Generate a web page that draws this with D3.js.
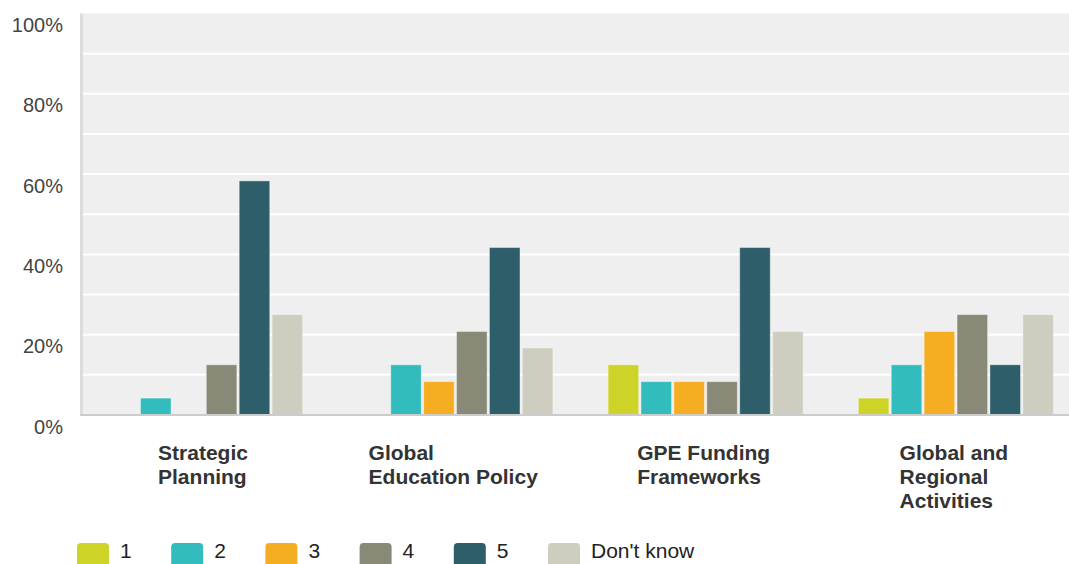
<!DOCTYPE html>
<html>
<head>
<meta charset="utf-8">
<script src="https://cdn.jsdelivr.net/npm/d3@7"></script>
<style>
  body { margin: 0; background: #fff; }
  svg { display: block; font-family: "Liberation Sans", Arial, sans-serif; }
</style>
</head>
<body>
<svg id="chart" width="1069" height="564"></svg>
<script>
// categories and their wrapped label lines
const categories = ["Strategic Planning", "Global Education Policy", "GPE Funding Frameworks", "Global and Regional Activities"];
const categoryLines = [
  ["Strategic", "Planning"],
  ["Global", "Education Policy"],
  ["GPE Funding", "Frameworks"],
  ["Global and", "Regional", "Activities"]
];
const seriesNames = ["1", "2", "3", "4", "5", "Don't know"];
const seriesColors = ["#ced427", "#33bcbe", "#f5ad21", "#888a77", "#2e5e6a", "#cfcdbf"];

// percentages per series, one value per category
const s1 = [0, 0, 12.5, 4.2];
const s2 = [4.2, 12.5, 8.3, 12.5];
const s3 = [0, 8.3, 8.3, 20.8];
const s4 = [12.5, 20.8, 8.3, 25];
const s5 = [58.3, 41.7, 41.7, 12.5];
const sDK = [25, 16.7, 20.8, 25];
const seriesValues = [s1, s2, s3, s4, s5, sDK];

const yTicks = [0, 20, 40, 60, 80, 100];
const yGrid = [10, 20, 30, 40, 50, 60, 70, 80, 90];

const svg = d3.select("#chart");
const plotLeft = 80, plotRight = 1081, plotTop = 13.5, plotBottom = 415;

const x = d3.scaleBand().domain(categories).range([plotLeft, plotRight]).padding(0);
const groupW = 197.4;
const xi = d3.scaleBand().domain(seriesNames)
  .range([(x.bandwidth() - groupW) / 2, (x.bandwidth() + groupW) / 2])
  .paddingInner(0.073).paddingOuter(0.0365);
const y = d3.scaleLinear().domain([0, 100]).range([plotBottom, plotTop]);
const color = d3.scaleOrdinal().domain(seriesNames).range(seriesColors);

// plot background
svg.append("rect")
  .attr("x", plotLeft).attr("y", plotTop)
  .attr("width", plotRight - plotLeft).attr("height", plotBottom - plotTop)
  .attr("fill", "#efefef");

// gridlines
svg.append("g").selectAll("line").data(yGrid).join("line")
  .attr("x1", plotLeft).attr("x2", plotRight)
  .attr("y1", d => y(d)).attr("y2", d => y(d))
  .attr("stroke", "#ffffff").attr("stroke-width", 2);

// left edge
svg.append("line")
  .attr("x1", plotLeft + 1.5).attr("x2", plotLeft + 1.5).attr("y1", plotTop).attr("y2", plotBottom)
  .attr("stroke", "#dddddd").attr("stroke-width", 3);

// y axis labels
const yAxis = svg.append("g").attr("transform", `translate(${plotLeft},0)`)
  .call(d3.axisLeft(y).tickValues(yTicks).tickFormat(d => d + "%").tickSize(0).tickPadding(17));
yAxis.select(".domain").remove();
yAxis.selectAll("text")
  .attr("dy", 18)
  .attr("font-size", 20)
  .attr("font-family", "'Liberation Sans', Arial, sans-serif")
  .attr("fill", "#444");

// bars
const groups = svg.append("g").selectAll("g").data(categories).join("g")
  .attr("transform", d => `translate(${x(d)},0)`);
groups.selectAll("rect")
  .data((c, ci) => seriesNames.map((s, si) => ({ s, v: seriesValues[si][ci] })).filter(d => d.v > 0))
  .join("rect")
  .attr("x", d => xi(d.s))
  .attr("width", xi.bandwidth())
  .attr("y", d => y(d.v))
  .attr("height", d => plotBottom - y(d.v))
  .attr("fill", d => color(d.s))
  .attr("stroke", "rgba(255,255,255,0.35)")
  .attr("stroke-width", 1);

// baseline
svg.append("line")
  .attr("x1", plotLeft).attr("x2", plotRight).attr("y1", plotBottom).attr("y2", plotBottom)
  .attr("stroke", "#cccccc").attr("stroke-width", 2);

// category labels: left-aligned lines in a block centred under the group
categories.forEach((c, i) => {
  const g = svg.append("g");
  const t = g.append("text")
    .attr("font-size", 21).attr("font-weight", "bold").attr("fill", "#333");
  categoryLines[i].forEach((line, li) => {
    t.append("tspan").attr("x", 0).attr("y", 460 + li * 24).text(line);
  });
  const w = t.node().getBBox().width;
  g.attr("transform", `translate(${x(c) + x.bandwidth() / 2 - w / 2 - 2},0)`);
});

// legend
const legend = svg.append("g").selectAll("g").data(seriesNames).join("g")
  .attr("transform", (d, i) => `translate(${77 + i * 94.2},543)`);
legend.append("rect")
  .attr("width", 32).attr("height", 32).attr("rx", 4)
  .attr("fill", d => color(d));
legend.append("text")
  .attr("x", 43).attr("y", 15)
  .attr("font-size", 21).attr("fill", "#222")
  .text(d => d);
</script>
</body>
</html>
